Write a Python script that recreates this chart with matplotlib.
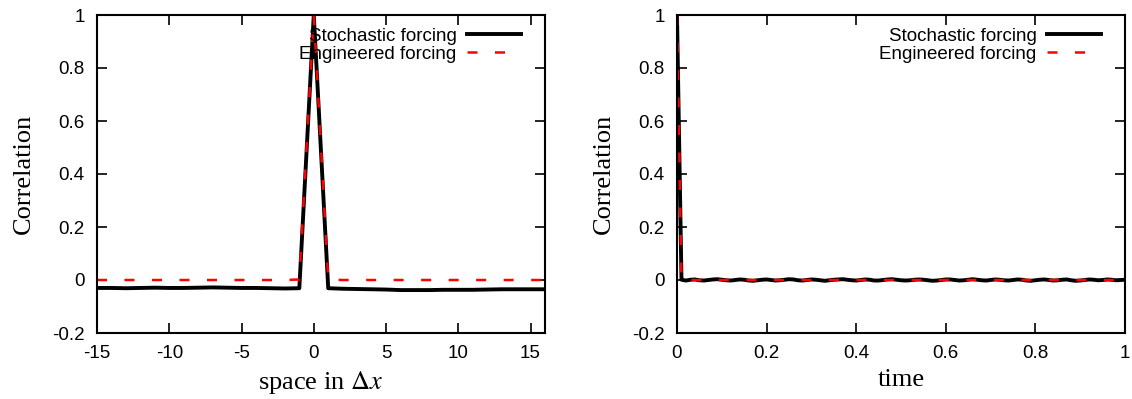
import matplotlib
matplotlib.use("Agg")
import matplotlib.pyplot as plt
import numpy as np

plt.rcParams["mathtext.fontset"] = "stix"

# Left panel: spatial correlation
space = list(range(-15, 17))
space_stoch = [-0.030, -0.030, -0.031, -0.030, -0.029, -0.030, -0.030, -0.029, -0.028,
               -0.029, -0.030, -0.030, -0.031, -0.032, -0.031, 1.000, -0.031, -0.033,
               -0.034, -0.035, -0.036, -0.038, -0.038, -0.038, -0.037, -0.037, -0.037,
               -0.036, -0.035, -0.035, -0.035, -0.035]
space_eng = [0.0, 0.0, 0.0, 0.0, 0.0, 0.0, 0.0, 0.0, 0.0, 0.0, 0.0, 0.0, 0.0, 0.0,
             0.002, 1.0, 0.002, 0.0, 0.0, 0.0, 0.0, 0.0, 0.0, 0.0, 0.0, 0.0, 0.0, 0.0,
             0.0, 0.0, 0.0, 0.0]

# Right panel: temporal correlation
time = [i / 100 for i in range(101)]
time_stoch = [1.000, 0.001, -0.002, 0.001, 0.002, -0.001, -0.002, 0.000, 0.002, 0.003,
              0.001, -0.001, -0.002, 0.000, 0.002, 0.001, -0.002, -0.003, -0.001, 0.001,
              0.002, 0.000, -0.002, -0.001, 0.001, 0.003, 0.002, -0.001, -0.002, 0.000,
              0.002, 0.001, -0.001, -0.003, -0.001, 0.001, 0.002, 0.003, 0.001, -0.001,
              -0.002, 0.000, 0.002, 0.001, -0.002, -0.002, 0.000, 0.002, 0.003, 0.001,
              -0.001, -0.002, -0.001, 0.001, 0.002, 0.001, -0.001, -0.003, -0.002, 0.000,
              0.002, 0.002, 0.000, -0.002, -0.001, 0.001, 0.003, 0.001, -0.001, -0.002,
              0.000, 0.002, 0.001, -0.001, -0.002, 0.000, 0.002, 0.001, -0.002, -0.003,
              -0.001, 0.001, 0.002, 0.000, -0.002, -0.001, 0.001, 0.002, -0.001, -0.003,
              -0.002, 0.000, 0.002, 0.001, -0.001, 0.000, 0.002, 0.001, -0.001, 0.000,
              0.001]
time_eng = [1.0] + [0.0] * 100

fig = plt.figure(figsize=(11.32, 3.99), dpi=100)
axL = fig.add_axes([97/1132, 66/399, 448/1132, 318/399])
axR = fig.add_axes([677/1132, 66/399, 448/1132, 318/399])

tick_font = {"family": "Liberation Sans", "size": 13.5}
label_font = {"family": "Liberation Serif", "size": 19}
DASH = (0, (4, 7))

def style(ax, xlim, xticks, xticklabels):
    ax.set_xlim(*xlim)
    ax.set_ylim(-0.2, 1.0)
    ax.set_xticks(xticks)
    ax.set_xticklabels(xticklabels, fontdict=tick_font)
    yt = [-0.2, 0, 0.2, 0.4, 0.6, 0.8, 1]
    ax.set_yticks(yt)
    ax.set_yticklabels(["-0.2", "0", "0.2", "0.4", "0.6", "0.8", "1"], fontdict=tick_font)
    ax.tick_params(direction="in", top=True, right=True, length=7, width=1.2)
    ax.tick_params(axis="x", pad=9)
    ax.tick_params(axis="y", pad=9)
    for s in ax.spines.values():
        s.set_linewidth(1.5)
    ax.set_ylabel("Correlation", fontdict=label_font, labelpad=12)
    ax.legend(loc="upper right", frameon=False, markerfirst=False,
              bbox_to_anchor=(1 - 20/448, 1 - 9/318),
              prop={"family": "Liberation Sans", "size": 13.5},
              handlelength=2.9, borderaxespad=0.0, labelspacing=0.05,
              handletextpad=0.55, borderpad=0.2)

axL.plot(space, space_stoch, color="black", lw=2.8, label="Stochastic forcing")
axL.plot(space, space_eng, color="red", lw=1.8, ls=DASH, label="Engineered forcing")
style(axL, (-15, 16), [-15, -10, -5, 0, 5, 10, 15], ["-15", "-10", "-5", "0", "5", "10", "15"])
axL.set_xlabel(r"space in $\Delta x$", fontdict=label_font, labelpad=5)

axR.plot(time, time_stoch, color="black", lw=2.8, label="Stochastic forcing")
axR.plot(time, time_eng, color="red", lw=1.8, ls=DASH, label="Engineered forcing")
style(axR, (0, 1), [0, 0.2, 0.4, 0.6, 0.8, 1], ["0", "0.2", "0.4", "0.6", "0.8", "1"])
axR.set_xlabel("time", fontdict=label_font, labelpad=5)

fig.savefig("out.png", dpi=100)
